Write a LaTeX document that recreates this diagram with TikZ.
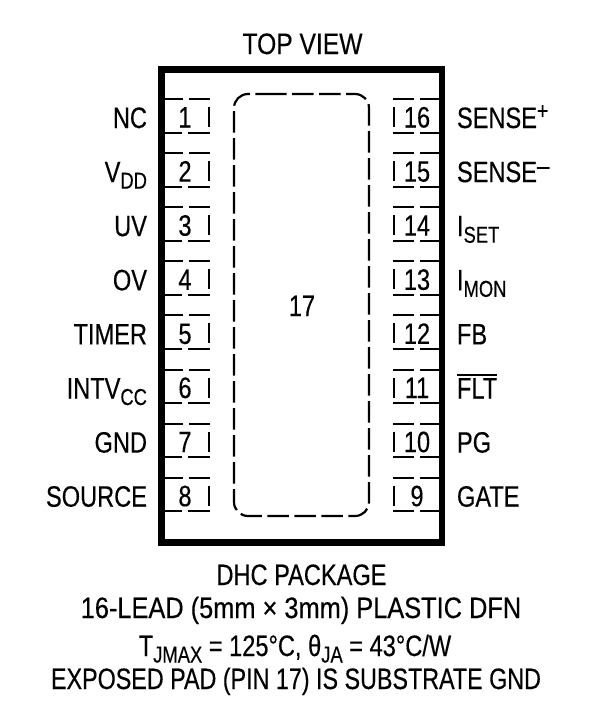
\documentclass[tikz,border=0pt]{standalone}
\usetikzlibrary{calc}
\usepackage{fontspec}
\setmainfont[FakeStretch=0.8,FakeBold=0.3]{Liberation Sans}
\newfontfamily\fontwide[FakeStretch=0.86,FakeBold=0.3]{Liberation Sans}
\newfontfamily\fontmid[FakeStretch=0.835,FakeBold=0.3]{Liberation Sans}
\newfontfamily\fonttight[FakeStretch=0.79,FakeBold=0.3]{Liberation Sans}
\newcommand{\lowtxt}[1]{\raisebox{-6.5pt}{\fontsize{23}{23}\selectfont #1}}
\newcommand{\plustxt}{\raisebox{9pt}{\fontsize{24}{24}\selectfont +}}
\newcommand{\minustxt}{\raisebox{7pt}{\fontsize{28}{28}\selectfont –}}
\newcommand{\barred}[1]{\leavevmode\setbox0=\hbox{#1}\rlap{\rule[23pt]{\wd0}{1.7pt}}\box0}
\tikzset{
  txt/.style={inner sep=0pt,outer sep=0pt,font=\fontsize{29.5}{30}\selectfont},
  lblL/.style={txt,anchor=base east},
  lblR/.style={txt,anchor=base west},
  numb/.style={txt,anchor=base},
  mid/.style={txt,anchor=base},
  padline/.style={line width=2pt,black},
  padedge/.style={line width=2.2pt,black,dash pattern=on 21.5pt off 5.5pt,line cap=butt},
  pkg/.style={draw=black,line width=6.5pt,fill=white,outer sep=0pt,inner sep=0pt}
}
\begin{document}
\begin{tikzpicture}[x=1pt,y=-1pt]
\useasboundingbox (0,0) rectangle (602,707);
\fill[white] (0,0) rectangle (602,707);
\node[pkg,minimum width=280.5pt,minimum height=473pt,anchor=north west] (body) at (161.5,69.5) {};
% exposed pad
\coordinate (padstart) at (265,94);
\draw[padedge,rounded corners=14pt] (padstart) -- (369,94) -- (369,516) -- (234,516) -- (234,94) -- (padstart);
% left pads
\foreach \i/\lab in {1/NC,2/V\lowtxt{DD},3/UV,4/OV,5/TIMER,6/INTV\lowtxt{CC},7/GND,8/SOURCE}{
  \pgfmathsetmacro{\ya}{99+54.1*(\i-1)}
  \coordinate (lt\i) at (165,\ya);
  \draw[padline] (lt\i) -- ++(18,0) ++(6,0) -- ++(21,0);
  \draw[padline] ($(lt\i)+(0,33.5)$) -- ++(17,0) ++(6,0) -- ++(22,0);
  \draw[padline] ($(lt\i)+(44,8)$) -- ++(0,20);
  \node[numb] (pl\i) at ($(lt\i)+(20,28.5)$) {\i};
  \node[lblL] (ll\i) at ($(lt\i)+(-18,29)$) {\lab};
}
% right pads
\foreach \i/\n/\lab in {1/16/SENSE\plustxt,2/15/SENSE\minustxt,3/14/I\lowtxt{SET},4/13/I\lowtxt{MON},5/12/FB,6/11/{\barred{FLT}},7/10/PG,8/9/GATE}{
  \pgfmathsetmacro{\ya}{99+54.1*(\i-1)}
  \coordinate (rt\i) at (393,\ya);
  \draw[padline] (rt\i) -- ++(21,0) ++(6,0) -- ++(19,0);
  \draw[padline] ($(rt\i)+(0,33.5)$) -- ++(21,0) ++(6,0) -- ++(19,0);
  \draw[padline] ($(rt\i)+(1,8)$) -- ++(0,20);
  \node[numb] (pr\i) at ($(rt\i)+(24,28.5)$) {\n};
  \node[lblR] (lr\i) at ($(rt\i)+(64,29)$) {\lab};
}
\node[mid] (seventeen) at (302,316) {17};
\node[mid] (top) at (302.5,54) {\fontmid TOP VIEW};
\node[mid] (l1) at (301.5,585) {DHC PACKAGE};
\node[mid] (l2) at (301,618) {\fontwide 16-LEAD (5mm × 3mm) PLASTIC DFN};
\node[mid] (l3) at (295,656) {T\lowtxt{JMAX} = 125°C, θ\lowtxt{JA} = 43°C/W};
\node[mid] (l4) at (296,689) {\fonttight EXPOSED PAD (PIN 17) IS SUBSTRATE GND};
\end{tikzpicture}
\end{document}
